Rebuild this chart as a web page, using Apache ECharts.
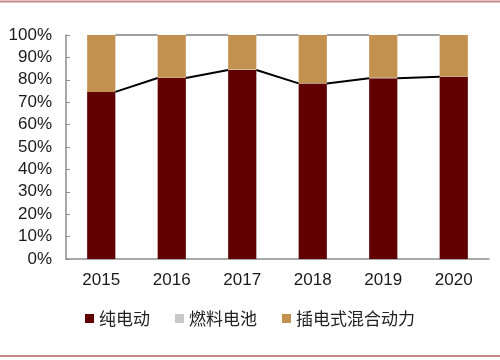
<!DOCTYPE html>
<html><head><meta charset="utf-8">
<script src="https://cdn.jsdelivr.net/npm/echarts@6/dist/echarts.min.js"></script>
<style>html,body{margin:0;padding:0;background:#fff}#c{width:500px;height:360px}</style>
</head><body><div id="c"></div>
<script>
const categories = ['2015','2016','2017','2018','2019','2020'];
const seriesNames = ['纯电动','燃料电池','插电式混合动力'];
const bev  = [74.6, 80.8, 84.4, 78.4, 80.7, 81.4];
const fcev = [0.0, 0.1, 0.2, 0.1, 0.2, 0.1];
const phev = [25.4, 19.1, 15.4, 21.5, 19.1, 18.5];
const total = [100, 100, 100, 100, 100, 100];
const yTicks = [0,10,20,30,40,50,60,70,80,90,100];

const BAR_FRAC = 0.4;
function seriesLine(vals, color, width){
  return {
    type:'custom', z:5, silent:true,
    data: vals.slice(0, vals.length-1).map((v,i)=>[i, v, vals[i+1]]),
    renderItem:function(params, api){
      const i = api.value(0);
      const band = api.size([1,0])[0];
      const half = band*BAR_FRAC/2;
      const p1 = api.coord([i, api.value(1)]);
      const p2 = api.coord([i+1, api.value(2)]);
      return {type:'line', shape:{x1:p1[0]+half, y1:p1[1], x2:p2[0]-half, y2:p2[1]},
        style:{stroke:color, lineWidth:width}};
    }
  };
}

const chart = echarts.init(document.getElementById('c'), null, {renderer:'canvas'});
chart.setOption({
  animation:false,
  textStyle:{fontFamily:'Liberation Sans, Arial, sans-serif'},
  grid:{left:66, right:11, top:35, bottom:101},
  legend:{
    data:seriesNames, bottom:28, left:'center',
    itemWidth:9, itemHeight:9, itemGap:25,
    icon:'rect',
    textStyle:{fontFamily:'Noto Sans CJK SC', fontSize:17, color:'#222'}
  },
  xAxis:{
    type:'category', data:categories,
    axisLine:{lineStyle:{color:'#8c8c8c', width:1.5}},
    axisTick:{inside:true, length:4, lineStyle:{color:'#8c8c8c'}},
    axisLabel:{fontSize:17, color:'#1a1a1a', margin:13}
  },
  yAxis:{
    type:'value', min:yTicks[0], max:yTicks[yTicks.length-1], interval:10,
    splitLine:{show:false},
    axisLine:{show:true, lineStyle:{color:'#8c8c8c', width:1.5}},
    axisTick:{show:true, inside:true, length:4, lineStyle:{color:'#8c8c8c'}},
    axisLabel:{fontSize:17, color:'#1a1a1a', margin:14, formatter:'{value}%'}
  },
  graphic:[
    {type:'line', shape:{x1:0,y1:1.5,x2:500,y2:1.5}, style:{stroke:'#c48a8a', lineWidth:2}},
    {type:'line', shape:{x1:0,y1:356,x2:500,y2:356}, style:{stroke:'#c48a8a', lineWidth:2}}
  ],
  series:[
    {name:seriesNames[0], type:'bar', stack:'s', data:bev, barWidth:'40%', itemStyle:{color:'#600000'}},
    {name:seriesNames[1], type:'bar', stack:'s', data:fcev, itemStyle:{color:'#c8c8c8'}},
    {name:seriesNames[2], type:'bar', stack:'s', data:phev, itemStyle:{color:'#c2904f'}},
    seriesLine(bev, '#000000', 2),
    seriesLine(total, '#7f7f7f', 1.5)
  ]
});
</script></body></html>
